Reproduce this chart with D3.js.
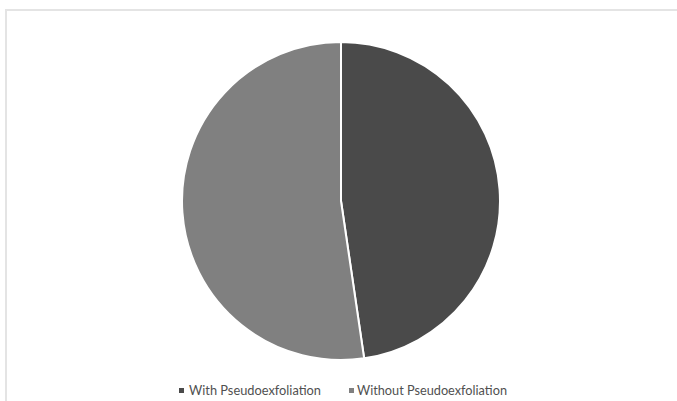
<!DOCTYPE html>
<html>
<head>
<meta charset="utf-8">
<script src="https://cdn.jsdelivr.net/npm/d3@7"></script>
<style>
  html, body { margin: 0; padding: 0; background: #ffffff; }
  svg { display: block; }
</style>
</head>
<body>
<svg id="chart" width="677" height="401"></svg>
<script>
// Patient groups and counts
const categories = ["With Pseudoexfoliation", "Without Pseudoexfoliation"];
const counts = [41, 45];
const colors = ["#4a4a4a", "#808080"];

const svg = d3.select("#chart");
const W = 677, H = 401;

// chart area frame
svg.append("rect")
  .attr("x", 6).attr("y", 10)
  .attr("width", W + 10).attr("height", H + 10)
  .attr("fill", "#ffffff")
  .attr("stroke", "#e4e4e4")
  .attr("stroke-width", 2);

const cx = 341, cy = 201, r = 159;

const pie = d3.pie().sort(null).value(d => d.value);
const arc = d3.arc().innerRadius(0).outerRadius(r);
const data = categories.map((c, i) => ({ name: c, value: counts[i], color: colors[i] }));

svg.append("g")
  .attr("transform", `translate(${cx},${cy})`)
  .selectAll("path")
  .data(pie(data))
  .join("path")
  .attr("d", arc)
  .attr("fill", d => d.data.color)
  .attr("stroke", "#ffffff")
  .attr("stroke-width", 2)
  .attr("stroke-linejoin", "round");

// legend
const legendItems = [
  { x: 179, tx: 189, w: 132 },
  { x: 349, tx: 357, w: 150 }
];
const legend = svg.append("g");
data.forEach((d, i) => {
  const L = legendItems[i];
  legend.append("rect")
    .attr("x", L.x).attr("y", 388)
    .attr("width", 5).attr("height", 5)
    .attr("fill", d.color);
  legend.append("text")
    .attr("x", L.tx).attr("y", 394.5)
    .attr("font-family", "Lato, 'Open Sans', sans-serif")
    .attr("font-size", 13.5)
    .attr("fill", "#505050")
    .attr("textLength", L.w)
    .attr("lengthAdjust", "spacingAndGlyphs")
    .text(d.name);
});
</script>
</body>
</html>
